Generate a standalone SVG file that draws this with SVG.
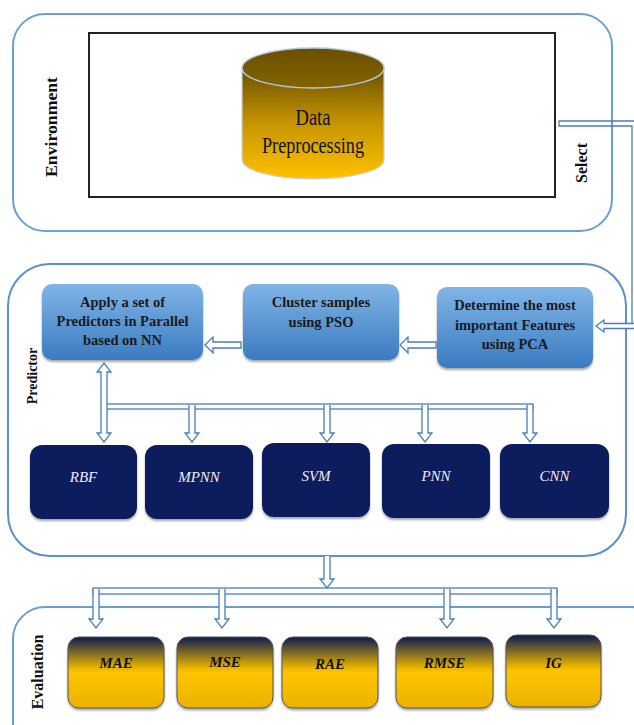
<svg xmlns="http://www.w3.org/2000/svg" width="634" height="725" viewBox="0 0 634 725">
<defs>
<linearGradient id="cylBody" x1="0" y1="0" x2="0" y2="1">
<stop offset="0" stop-color="#6a4f00"/>
<stop offset="0.5" stop-color="#c79500"/>
<stop offset="1" stop-color="#ffc200"/>
</linearGradient>
<linearGradient id="cylTop" x1="0" y1="0" x2="0" y2="1">
<stop offset="0" stop-color="#6a4f00"/>
<stop offset="1" stop-color="#846400"/>
</linearGradient>
<linearGradient id="blueBox" x1="0" y1="0" x2="0" y2="1">
<stop offset="0" stop-color="#80b5e6"/>
<stop offset="1" stop-color="#3b7bc1"/>
</linearGradient>
<linearGradient id="goldBox" x1="0" y1="0" x2="0" y2="1">
<stop offset="0" stop-color="#0b1a4e"/>
<stop offset="0.42" stop-color="#e3b000"/>
<stop offset="0.5" stop-color="#ffc400"/>
<stop offset="1" stop-color="#e9b200"/>
</linearGradient>
<filter id="shadow" x="-10%" y="-10%" width="120%" height="130%">
<feDropShadow dx="0" dy="2" stdDeviation="1.2" flood-color="#000" flood-opacity="0.35"/>
</filter>
</defs>
<style>
.frame{fill:none;stroke:#6b9fd4;stroke-width:2}
.lbl{font-family:"Liberation Serif","Times New Roman",serif;font-weight:bold;fill:#111;text-anchor:middle}
.bbox{fill:url(#blueBox);filter:url(#shadow)}
.btxt{font-family:"Liberation Serif","Times New Roman",serif;font-weight:bold;font-size:14.5px;fill:#1a1a22;text-anchor:middle}
.dbox{fill:#0b1f5c;filter:url(#shadow)}
.dtxt{font-family:"Liberation Serif","Times New Roman",serif;font-style:italic;font-size:15px;fill:#eeeef4;text-anchor:middle}
.gbox{fill:url(#goldBox);stroke:#555;stroke-width:1;filter:url(#shadow)}
.gtxt{font-family:"Liberation Serif","Times New Roman",serif;font-style:italic;font-weight:bold;font-size:15px;fill:#111;text-anchor:middle}
.pipe{fill:none;stroke:#4a7ebb;stroke-width:1.3}
.arr{fill:#fff;stroke:#4a7ebb;stroke-width:1.3;stroke-linejoin:miter}
</style>
<rect width="634" height="725" fill="#fff"/>

<g id="environment">
<rect class="frame" x="13" y="14" width="599" height="217" rx="32"/>
<text class="lbl" font-size="16" transform="translate(57,127) rotate(-90)" textLength="100" lengthAdjust="spacingAndGlyphs">Environment</text>
<text class="lbl" font-size="16" transform="translate(587,163) rotate(-90)">Select</text>
</g>

<g id="data-box">
<rect x="89" y="33" width="466" height="164" fill="#fff" stroke="#222" stroke-width="2"/>
</g>

<g id="data-preprocessing">
<path d="M242,68 V160 A71,19 0 0 0 384,160 V68 Z" fill="url(#cylBody)" stroke="#c9d3de" stroke-width="1.2"/>
<ellipse cx="313" cy="68" rx="71" ry="20" fill="url(#cylTop)" stroke="#b3c8dc" stroke-width="1.5"/>
<text x="313" y="125" font-family="Liberation Serif, Times New Roman, serif" font-size="24" fill="#111" text-anchor="middle" textLength="35" lengthAdjust="spacingAndGlyphs">Data</text>
<text x="313" y="153" font-family="Liberation Serif, Times New Roman, serif" font-size="24" fill="#111" text-anchor="middle" textLength="102" lengthAdjust="spacingAndGlyphs">Preprocessing</text>
</g>

<g id="predictor">
<rect class="frame" x="8" y="264" width="618" height="292" rx="42" style="stroke:#5d8fcc"/>
<text class="lbl" font-size="14" transform="translate(37,376) rotate(-90)">Predictor</text>
</g>

<g id="apply">
<rect class="bbox" x="42" y="284" width="161" height="76" rx="10"/>
<text class="btxt" x="122.5" y="307">Apply a set of</text>
<text class="btxt" x="122.5" y="326">Predictors  in Parallel</text>
<text class="btxt" x="122.5" y="345">based on NN</text>
</g>

<g id="cluster">
<rect class="bbox" x="243" y="284" width="156" height="76" rx="10"/>
<text class="btxt" x="321" y="307">Cluster samples</text>
<text class="btxt" x="321" y="327">using PSO</text>
</g>

<g id="pca">
<rect class="bbox" x="437" y="287" width="156" height="81" rx="10"/>
<text class="btxt" x="515" y="310">Determine the most</text>
<text class="btxt" x="515" y="330">important Features</text>
<text class="btxt" x="515" y="349">using PCA</text>
</g>

<g id="rbf"><rect class="dbox" x="30" y="445" width="107" height="74" rx="12"/><text class="dtxt" x="83.5" y="482">RBF</text></g>
<g id="mpnn"><rect class="dbox" x="145" y="445" width="108" height="74" rx="12"/><text class="dtxt" x="199" y="482">MPNN</text></g>
<g id="svm"><rect class="dbox" x="262" y="443" width="108" height="74" rx="12"/><text class="dtxt" x="316" y="481">SVM</text></g>
<g id="pnn"><rect class="dbox" x="382" y="444" width="108" height="74" rx="12"/><text class="dtxt" x="436" y="481">PNN</text></g>
<g id="cnn"><rect class="dbox" x="500" y="444" width="109" height="74" rx="12"/><text class="dtxt" x="554.5" y="481">CNN</text></g>

<g id="evaluation">
<rect class="frame" x="13" y="607" width="650" height="150" rx="32"/>
<text class="lbl" font-size="16" transform="translate(43,672) rotate(-90)">Evaluation</text>
</g>

<g id="mae"><rect class="gbox" x="68" y="637" width="96" height="71" rx="11"/><text class="gtxt" x="116" y="668">MAE</text></g>
<g id="mse"><rect class="gbox" x="177" y="637" width="96" height="71" rx="11"/><text class="gtxt" x="225" y="667">MSE</text></g>
<g id="rae"><rect class="gbox" x="282" y="637" width="96" height="71" rx="11"/><text class="gtxt" x="330" y="669">RAE</text></g>
<g id="rmse"><rect class="gbox" x="396" y="637" width="97" height="71" rx="11"/><text class="gtxt" x="444.5" y="668">RMSE</text></g>
<g id="ig"><rect class="gbox" x="506" y="635" width="95" height="72" rx="11"/><text class="gtxt" x="553.5" y="668">IG</text></g>

<g id="connectors">
<!-- Select connector from environment to PCA -->
<path class="pipe" d="M640,121 H559 V126 H632 V329"/>
<path class="arr" d="M640,323.5 H604 V320 L596,326 L604,332 V328.5 H640"/>
<!-- PCA -> Cluster -->
<path class="arr" d="M436,342 H408 V337 L400,345 L408,353 V348 H436 Z"/>
<!-- Cluster -> Apply -->
<path class="arr" d="M241,342 H213 V337 L205,345 L213,353 V348 H241 Z"/>
<!-- Predictor bus -->
<rect class="pipe" x="104" y="404" width="429" height="5"/>
<path class="arr" d="M101,372 H97 L104,363 L111,372 H107 V433 H111 L104,442 L97,433 H101 Z"/>
<path class="arr" d="M189,405 V433 H185 L192,442 L199,433 H195 V405"/>
<path class="arr" d="M324,405 V433 H320 L327,442 L334,433 H330 V405"/>
<path class="arr" d="M422,405 V433 H418 L425,442 L432,433 H428 V405"/>
<path class="arr" d="M527,405 V433 H523 L530,442 L537,433 H533 V405"/>
<!-- Predictor -> Evaluation -->
<path class="arr" d="M324,556 V579 H320 L327,588 L334,579 H330 V556"/>
<rect class="pipe" x="93" y="588" width="464" height="6"/>
<path class="arr" d="M93,589 V619 H89 L96,628 L103,619 H99 V589"/>
<path class="arr" d="M219,589 V619 H215 L222,628 L229,619 H225 V589"/>
<path class="arr" d="M444,589 V619 H440 L447,628 L454,619 H450 V589"/>
<path class="arr" d="M551,589 V619 H547 L554,628 L561,619 H557 V589"/>
</g>
</svg>
